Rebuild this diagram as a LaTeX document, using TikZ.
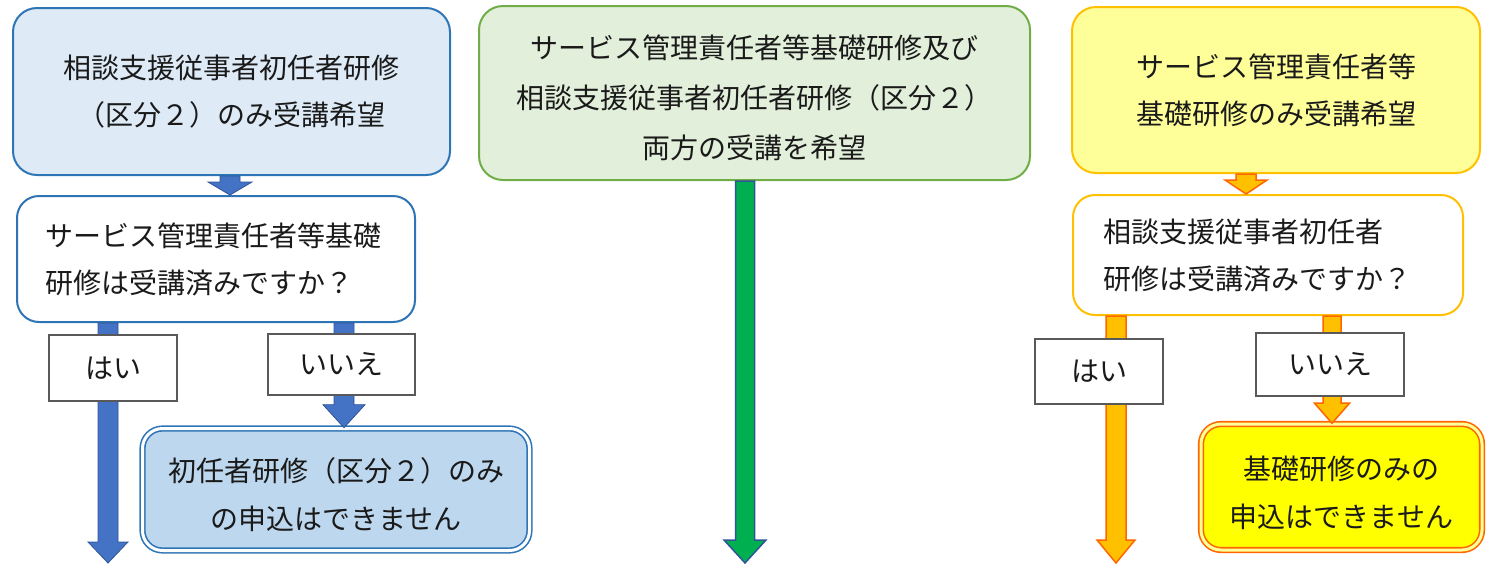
\documentclass[tikz,border=0pt]{standalone}
\usepackage{fontspec}
\setmainfont{Noto Sans CJK JP}
\usetikzlibrary{calc}
\definecolor{bluebd}{HTML}{2E75B6}
\definecolor{bluefill}{HTML}{DEEBF7}
\definecolor{bluefillB}{HTML}{BDD7EE}
\definecolor{arrblue}{HTML}{4472C4}
\definecolor{arrbluebd}{HTML}{2F5597}
\definecolor{greenbd}{HTML}{70AD47}
\definecolor{greenfill}{HTML}{E2EFDA}
\definecolor{arrgreen}{HTML}{00B050}
\definecolor{yelbd}{HTML}{FFC000}
\definecolor{yelfill}{HTML}{FFFF99}
\definecolor{yelfillB}{HTML}{FFFF00}
\definecolor{orabd}{HTML}{FF6600}
\definecolor{graybd}{HTML}{595959}
\definecolor{txt}{HTML}{1A1A1A}
\newcommand\blockarrow[7]{%
  \draw[#1] let \p1=(#2,0 |- #3), \p2=(#2,0 |- #4) in
    ({\x1-#5pt},\y1) -- ({\x1+#5pt},\y1) -- ({\x1+#5pt},{\y2+#7pt})
    -- ({\x1+#6pt},{\y2+#7pt}) -- (\x1,\y2) -- ({\x1-#6pt},{\y2+#7pt})
    -- ({\x1-#5pt},{\y2+#7pt}) -- cycle;}
\tikzset{
  box/.style={rounded corners=24pt, line width=2pt, text=txt, align=center,
    font=\fontsize{28}{47}\selectfont, inner sep=0pt},
  resbox/.style={box, double distance=3pt, line width=1.6pt, rounded corners=20pt},
  lbl/.style={draw=graybd, fill=white, line width=2pt, text=txt,
    font=\fontsize{28}{34}\selectfont, inner sep=0pt},
  arrB/.style={fill=arrblue, draw=arrbluebd, line width=0.8pt},
  arrG/.style={fill=arrgreen, draw=arrbluebd, line width=1.5pt},
  arrO/.style={fill=yelbd, draw=orabd, line width=1.5pt},
}
\begin{document}
\begin{tikzpicture}[x=1pt,y=-1pt]
\useasboundingbox (0,0) rectangle (1499,563);
% left column
\node[box, draw=bluebd, fill=bluefill, minimum width=437pt, minimum height=167pt]
  (A1) at (231.5,91.5) {相談支援従事者初任者研修\\（区分２）のみ受講希望};
\node[box, draw=bluebd, fill=white, minimum height=126pt, text width=342pt,
  inner xsep=28pt, align=left, rounded corners=22pt]
  (A2) at (216,259) {サービス管理責任者等基礎\\研修は受講済みですか？};
\node[resbox, draw=bluebd, fill=bluefillB, double=white,
  minimum width=387pt, minimum height=122pt]
  (R1) at (336,489.5) {\rule{0pt}{35pt}初任者研修（区分２）のみ\\[1pt]の申込はできません};
\coordinate (endL) at (108,563);
\blockarrow{arrB}{230}{A1.south}{A2.north}{10}{22}{13}
\blockarrow{arrB}{108}{A2.south}{endL}{10}{20}{21}
\blockarrow{arrB}{344}{A2.south}{R1.north}{10}{21}{23}
\node[lbl, minimum width=128pt, minimum height=66pt] (YL) at (113,368) {はい};
\node[lbl, minimum width=147pt, minimum height=61pt] (NL) at (341.5,364.5) {いいえ};
% middle column
\node[box, draw=greenbd, fill=greenfill, minimum width=551pt, minimum height=174pt]
  (B) at (754.5,93) {\rule{0pt}{33pt}サービス管理責任者等基礎研修及び\\[3pt]相談支援従事者初任者研修（区分２）\\[3pt]両方の受講を希望};
\coordinate (endM) at (745,563);
\blockarrow{arrG}{745}{B.south}{endM}{9.5}{21}{23}
% right column
\node[box, draw=yelbd, fill=yelfill, minimum width=408pt, minimum height=166pt]
  (C) at (1276,90) {サービス管理責任者等\\基礎研修のみ受講希望};
\node[box, draw=yelbd, fill=white, minimum height=120pt, text width=330pt,
  inner xsep=30pt, align=left, rounded corners=22pt]
  (C2) at (1268,255) {相談支援従事者初任者\\研修は受講済みですか？};
\node[resbox, draw=orabd, fill=yelfillB, double=yelfill,
  minimum width=281pt, minimum height=126pt]
  (R2) at (1341.5,487) {\rule{0pt}{35pt}基礎研修のみの\\[1pt]申込はできません};
\coordinate (endR) at (1116,563);
\blockarrow{arrO}{1246}{C.south}{C2.north}{10}{21}{14}
\blockarrow{arrO}{1116}{C2.south}{endR}{10}{19}{23}
\blockarrow{arrO}{1332}{C2.south}{R2.north}{9}{17.5}{20}
\node[lbl, minimum width=128pt, minimum height=65pt] (YR) at (1099,371.5) {はい};
\node[lbl, minimum width=148pt, minimum height=63pt] (NR) at (1330,364.5) {いいえ};
\end{tikzpicture}
\end{document}
